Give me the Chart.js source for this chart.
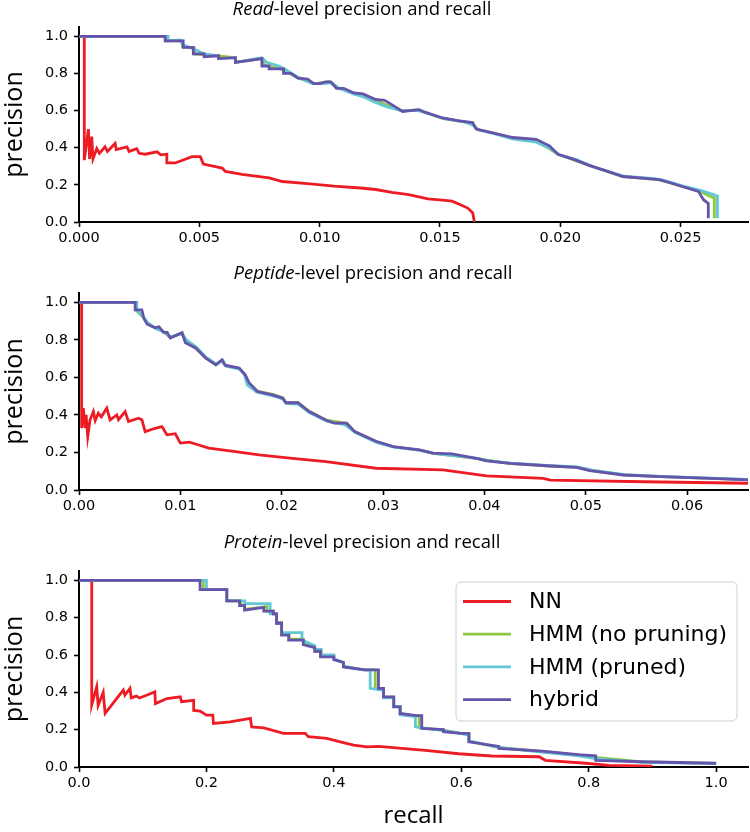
<!DOCTYPE html>
<html>
<head>
<meta charset="utf-8">
<script src="https://cdn.jsdelivr.net/npm/chart.js@4.4.1/dist/chart.umd.min.js"></script>
<style>
  body { margin: 0; background: #fff; }
  canvas { position: absolute; left: 0; }
</style>
</head>
<body>
<canvas id="readChart" width="750" height="250" style="top:0px"></canvas>
<canvas id="pepChart" width="750" height="256" style="top:262px"></canvas>
<canvas id="protChart" width="750" height="302" style="top:530px"></canvas>
<script>
const seriesNames = ["NN", "HMM (no pruning)", "HMM (pruned)", "hybrid"];
const seriesColors = ["#ed1c24", "#8dc63f", "#62c8d3", "#6554ab"];

// read level: [recall, precision]
const readNN = [[0.00022, 1.0], [0.00022, 0.333], [0.00039, 0.50], [0.00044, 0.34], [0.00053, 0.46], [0.00058, 0.34],
  [0.00074, 0.395], [0.00085, 0.37], [0.00108, 0.405], [0.00118, 0.38], [0.0015, 0.423], [0.00155, 0.39],
  [0.00199, 0.405], [0.00208, 0.38], [0.0024, 0.395], [0.0025, 0.37], [0.00275, 0.365], [0.00324, 0.378],
  [0.0034, 0.362], [0.00365, 0.365], [0.00365, 0.318], [0.0040, 0.318], [0.0047, 0.352], [0.00504, 0.352],
  [0.00517, 0.312], [0.00595, 0.29], [0.00608, 0.272], [0.00678, 0.256], [0.0079, 0.237], [0.00845, 0.218],
  [0.0095, 0.207], [0.0106, 0.193], [0.0117, 0.183], [0.01233, 0.175], [0.013, 0.16], [0.0137, 0.147],
  [0.0145, 0.125], [0.0151, 0.118], [0.0155, 0.112], [0.0159, 0.09], [0.01615, 0.075], [0.01636, 0.05], [0.01643, 0.0]];
const readNoPrune = [[0, 1.0], [0.0036, 1.0], [0.0036, 0.975], [0.0043, 0.975], [0.0043, 0.945], [0.0048, 0.935],
  [0.0048, 0.905], [0.0058, 0.895], [0.0065, 0.885], [0.0065, 0.86], [0.0076, 0.88], [0.0077, 0.845], [0.0085, 0.82],
  [0.0091, 0.775], [0.0098, 0.745], [0.0104, 0.755], [0.0108, 0.72], [0.0114, 0.695], [0.0123, 0.655], [0.0134, 0.598],
  [0.0141, 0.603], [0.0151, 0.558], [0.0163, 0.532], [0.0166, 0.498], [0.018, 0.452], [0.019, 0.44], [0.0199, 0.365],
  [0.0212, 0.305], [0.0226, 0.245], [0.0241, 0.228], [0.0251, 0.19], [0.0258, 0.165], [0.0262, 0.14], [0.0264, 0.13], [0.0264, 0.02]];
const readPruned = [[0, 1.0], [0.0037, 1.0], [0.0037, 0.975], [0.0042, 0.98], [0.0043, 0.955], [0.0049, 0.925],
  [0.0052, 0.905], [0.0058, 0.895], [0.0058, 0.88], [0.0065, 0.885], [0.0065, 0.86], [0.0076, 0.885], [0.0078, 0.86],
  [0.0083, 0.84], [0.0086, 0.82], [0.0091, 0.78], [0.0097, 0.745], [0.0102, 0.745], [0.0105, 0.75], [0.0108, 0.72],
  [0.0114, 0.69], [0.0118, 0.675], [0.0124, 0.64], [0.0128, 0.62], [0.0134, 0.60], [0.0141, 0.60], [0.0146, 0.58],
  [0.0152, 0.555], [0.0160, 0.54], [0.0164, 0.52], [0.0166, 0.495], [0.0173, 0.475], [0.018, 0.448], [0.019, 0.43],
  [0.0196, 0.395], [0.020, 0.36], [0.0207, 0.335], [0.0213, 0.30], [0.0220, 0.272], [0.0227, 0.245], [0.0236, 0.238],
  [0.0242, 0.228], [0.0247, 0.21], [0.0252, 0.19], [0.0259, 0.168], [0.0263, 0.15], [0.02653, 0.14], [0.02653, 0.02]];
const readHybrid = [[0, 1.0], [0.00358, 1.0], [0.00358, 0.975], [0.00433, 0.975], [0.00433, 0.94], [0.00475, 0.94],
  [0.00475, 0.905], [0.0052, 0.905], [0.0052, 0.89], [0.0058, 0.895], [0.0058, 0.88], [0.0065, 0.885], [0.0065, 0.86],
  [0.0076, 0.88], [0.0076, 0.84], [0.0079, 0.84], [0.0079, 0.825], [0.0085, 0.825], [0.0085, 0.80], [0.0088, 0.80],
  [0.0091, 0.775], [0.0095, 0.77], [0.00975, 0.745], [0.0100, 0.745], [0.01025, 0.755], [0.01046, 0.755], [0.0107, 0.72],
  [0.0110, 0.72], [0.01142, 0.695], [0.0118, 0.69], [0.01233, 0.66], [0.0127, 0.655], [0.01315, 0.62], [0.01345, 0.595],
  [0.01413, 0.605], [0.0144, 0.59], [0.01511, 0.56], [0.0158, 0.545], [0.01636, 0.535], [0.0165, 0.50], [0.0172, 0.48],
  [0.01803, 0.455], [0.019, 0.445], [0.01955, 0.41], [0.0199, 0.365], [0.0205, 0.34], [0.0212, 0.305], [0.0219, 0.275],
  [0.0226, 0.245], [0.0235, 0.235], [0.0241, 0.228], [0.0246, 0.21], [0.0251, 0.19], [0.02574, 0.165], [0.02595, 0.12],
  [0.02615, 0.10], [0.02615, 0.02]];

// peptide level
const pepNN = [[0.00026, 1.0], [0.00026, 0.33], [0.00043, 0.436], [0.0006, 0.33], [0.0007, 0.40], [0.00086, 0.285],
  [0.00109, 0.374], [0.00142, 0.418], [0.0016, 0.37], [0.00191, 0.409], [0.0022, 0.39], [0.00274, 0.436], [0.00307, 0.374],
  [0.00373, 0.40], [0.0039, 0.375], [0.00455, 0.418], [0.00488, 0.365], [0.00587, 0.383], [0.0062, 0.375], [0.00653, 0.311],
  [0.00752, 0.329], [0.00818, 0.338], [0.00868, 0.294], [0.0095, 0.30], [0.01, 0.25], [0.0109, 0.255], [0.01181, 0.24],
  [0.0128, 0.223], [0.01545, 0.205], [0.01775, 0.187], [0.02106, 0.169], [0.02436, 0.151], [0.0293, 0.116], [0.0359, 0.107],
  [0.0402, 0.075], [0.0458, 0.062], [0.0465, 0.053], [0.0557, 0.044], [0.066, 0.036]];
const pepNoPrune = [[0, 1.0], [0.0056, 1.0], [0.0056, 0.96], [0.0064, 0.917], [0.0068, 0.883], [0.0076, 0.864],
  [0.0084, 0.84], [0.009, 0.812], [0.0102, 0.836], [0.0105, 0.79], [0.0115, 0.758], [0.0125, 0.705], [0.0135, 0.668],
  [0.0141, 0.692], [0.0145, 0.663], [0.0158, 0.648], [0.0164, 0.61], [0.0167, 0.568], [0.0176, 0.527], [0.0191, 0.51],
  [0.0201, 0.492], [0.0204, 0.466], [0.0216, 0.466], [0.0227, 0.42], [0.0244, 0.372], [0.0264, 0.355], [0.0272, 0.31],
  [0.0293, 0.258], [0.031, 0.23], [0.0336, 0.212], [0.0349, 0.195], [0.0392, 0.168], [0.0425, 0.141], [0.0465, 0.128],
  [0.0491, 0.121], [0.0504, 0.104], [0.0537, 0.081], [0.0574, 0.071], [0.0623, 0.062], [0.066, 0.055]];
const pepPruned = [[0, 1.0], [0.0057, 1.0], [0.0057, 0.96], [0.0064, 0.92], [0.0068, 0.89], [0.0076, 0.86],
  [0.0083, 0.845], [0.009, 0.815], [0.0101, 0.835], [0.0106, 0.8], [0.0116, 0.76], [0.0125, 0.71], [0.0136, 0.67],
  [0.0142, 0.69], [0.0145, 0.66], [0.0158, 0.645], [0.0163, 0.62], [0.0166, 0.56], [0.0175, 0.522], [0.019, 0.503],
  [0.0201, 0.485], [0.0205, 0.46], [0.0216, 0.458], [0.0228, 0.41], [0.0245, 0.365], [0.0262, 0.348], [0.0273, 0.305],
  [0.0294, 0.252], [0.0311, 0.228], [0.0337, 0.211], [0.035, 0.195], [0.0393, 0.168], [0.0403, 0.156], [0.0426, 0.143],
  [0.0466, 0.13], [0.0492, 0.123], [0.0506, 0.106], [0.0538, 0.082], [0.0575, 0.072], [0.0624, 0.063], [0.066, 0.056]];
const pepHybrid = [[0, 1.0], [0.00554, 1.0], [0.00554, 0.96], [0.0062, 0.96], [0.0064, 0.915], [0.0067, 0.885],
  [0.0075, 0.865], [0.0079, 0.87], [0.00835, 0.84], [0.0087, 0.84], [0.009, 0.81], [0.01016, 0.838], [0.0105, 0.785],
  [0.0115, 0.757], [0.0125, 0.703], [0.0135, 0.667], [0.0141, 0.694], [0.0144, 0.665], [0.0158, 0.65], [0.0164, 0.614],
  [0.0168, 0.57], [0.0176, 0.525], [0.0191, 0.507], [0.0201, 0.49], [0.0204, 0.465], [0.0216, 0.465], [0.0227, 0.418],
  [0.0244, 0.372], [0.0252, 0.356], [0.0264, 0.356], [0.0272, 0.311], [0.0293, 0.26], [0.0310, 0.231], [0.0336, 0.214],
  [0.0349, 0.196], [0.0368, 0.193], [0.0392, 0.169], [0.0402, 0.155], [0.0425, 0.142], [0.0465, 0.128], [0.0491, 0.121],
  [0.0504, 0.103], [0.0537, 0.08], [0.0574, 0.071], [0.0623, 0.062], [0.066, 0.054]];

// protein level
const protNN = [[0.02, 1.0], [0.02, 0.332], [0.0278, 0.43], [0.03, 0.33], [0.038, 0.40], [0.041, 0.287], [0.0696, 0.412],
  [0.072, 0.385], [0.08, 0.421], [0.082, 0.37], [0.09, 0.38], [0.095, 0.37], [0.11, 0.39], [0.119, 0.403], [0.12, 0.34],
  [0.138, 0.367], [0.159, 0.376], [0.161, 0.35], [0.18, 0.357], [0.18, 0.303], [0.19, 0.3], [0.2, 0.278], [0.21, 0.278],
  [0.211, 0.233], [0.237, 0.242], [0.269, 0.26], [0.271, 0.215], [0.29, 0.21], [0.321, 0.18], [0.355, 0.18], [0.36, 0.162],
  [0.389, 0.153], [0.41, 0.135], [0.431, 0.117], [0.452, 0.108], [0.47, 0.11], [0.5436, 0.089], [0.596, 0.071],
  [0.648, 0.059], [0.722, 0.055], [0.732, 0.036], [0.795, 0.02], [0.832, 0.009], [0.9, 0.004]];
const protNoPrune = [[0, 1], [0.195, 1], [0.195, 0.95], [0.232, 0.95], [0.232, 0.89], [0.254, 0.89], [0.254, 0.865],
  [0.26, 0.865], [0.26, 0.845], [0.295, 0.86], [0.295, 0.835], [0.305, 0.835], [0.305, 0.82], [0.31, 0.82], [0.31, 0.775],
  [0.318, 0.775], [0.318, 0.71], [0.33, 0.71], [0.33, 0.685], [0.352, 0.685], [0.352, 0.66], [0.37, 0.645], [0.37, 0.62],
  [0.38, 0.62], [0.38, 0.595], [0.4, 0.595], [0.4, 0.578], [0.415, 0.56], [0.415, 0.538], [0.449, 0.52], [0.465, 0.52],
  [0.465, 0.421], [0.478, 0.415], [0.478, 0.374], [0.494, 0.374], [0.494, 0.324], [0.504, 0.324], [0.504, 0.285],
  [0.53, 0.274], [0.534, 0.274], [0.534, 0.21], [0.572, 0.197], [0.599, 0.18], [0.612, 0.176], [0.612, 0.138],
  [0.659, 0.104], [0.727, 0.083], [0.784, 0.063], [0.811, 0.052], [0.884, 0.027], [1.0, 0.019]];
const protPruned = [[0, 1], [0.2, 1], [0.2, 0.95], [0.232, 0.95], [0.232, 0.89], [0.26, 0.89], [0.26, 0.875],
  [0.3, 0.875], [0.3, 0.82], [0.31, 0.82], [0.31, 0.77], [0.318, 0.77], [0.318, 0.72], [0.35, 0.72], [0.35, 0.68],
  [0.37, 0.65], [0.37, 0.63], [0.38, 0.63], [0.38, 0.6], [0.4, 0.6], [0.4, 0.58], [0.415, 0.56], [0.415, 0.54],
  [0.445, 0.52], [0.457, 0.52], [0.457, 0.421], [0.478, 0.41], [0.478, 0.37], [0.494, 0.37], [0.494, 0.325],
  [0.504, 0.325], [0.504, 0.28], [0.528, 0.27], [0.528, 0.215], [0.572, 0.195], [0.599, 0.18], [0.612, 0.17],
  [0.612, 0.14], [0.659, 0.105], [0.727, 0.08], [0.784, 0.06], [0.811, 0.045], [0.884, 0.025], [1.0, 0.018]];
const protHybrid = [[0, 1], [0.19, 1], [0.19, 0.95], [0.232, 0.95], [0.232, 0.89], [0.252, 0.89], [0.252, 0.865],
  [0.26, 0.865], [0.26, 0.84], [0.29, 0.855], [0.29, 0.835], [0.305, 0.835], [0.305, 0.82], [0.31, 0.82], [0.31, 0.77],
  [0.318, 0.77], [0.318, 0.706], [0.329, 0.706], [0.329, 0.68], [0.352, 0.68], [0.352, 0.655], [0.37, 0.64], [0.37, 0.62],
  [0.379, 0.62], [0.379, 0.59], [0.4, 0.59], [0.4, 0.575], [0.415, 0.56], [0.415, 0.536], [0.449, 0.52], [0.47, 0.52],
  [0.47, 0.421], [0.478, 0.421], [0.478, 0.376], [0.494, 0.376], [0.494, 0.322], [0.504, 0.322], [0.504, 0.287],
  [0.53, 0.275], [0.538, 0.275], [0.538, 0.207], [0.572, 0.2], [0.572, 0.189], [0.599, 0.18], [0.612, 0.18],
  [0.612, 0.135], [0.659, 0.11], [0.659, 0.1], [0.727, 0.085], [0.784, 0.066], [0.811, 0.06], [0.811, 0.035],
  [0.884, 0.028], [1.0, 0.02]];

const yTicks = [0, 0.2, 0.4, 0.6, 0.8, 1.0];
const readTicks = [0, 0.005, 0.01, 0.015, 0.02, 0.025];
const pepTicks = [0, 0.01, 0.02, 0.03, 0.04, 0.05, 0.06];
const protTicks = [0, 0.2, 0.4, 0.6, 0.8, 1.0];

const tickFont = { family: "DejaVu Sans", size: 14.5 };
const labelFont = { family: "Open Sans", size: 25 };

const panelTitle = {
    id: "panelTitle",
    afterDraw(chart, args, opts) {
        const ctx = chart.ctx;
        ctx.save();
        ctx.fillStyle = "#000";
        ctx.textBaseline = "middle";
        ctx.textAlign = "left";
        ctx.font = "italic 18.5px 'Open Sans'";
        const w1 = ctx.measureText(opts.italic).width;
        ctx.font = "18.5px 'Open Sans'";
        const w2 = ctx.measureText(opts.rest).width;
        const x = opts.x - (w1 + w2) / 2;
        ctx.font = "italic 18.5px 'Open Sans'";
        ctx.fillText(opts.italic, x, opts.y);
        ctx.font = "18.5px 'Open Sans'";
        ctx.fillText(opts.rest, x + w1, opts.y);
        ctx.restore();
    }
};

const boxLegend = {
    id: "boxLegend",
    afterDraw(chart, args, opts) {
        if (!opts.show) return;
        const ctx = chart.ctx;
        const area = chart.chartArea;
        const sets = chart.data.datasets;
        ctx.save();
        ctx.font = "22px 'DejaVu Sans'";
        let textW = 0;
        sets.forEach((ds) => { textW = Math.max(textW, ctx.measureText(ds.label).width); });
        const w = 7 + 48 + 18 + textW + 10;
        const h = 139;
        const left = area.right - 11 - w;
        const top = area.top + 11;
        ctx.beginPath();
        ctx.roundRect(left, top, w, h, 5);
        ctx.fillStyle = "rgba(255,255,255,0.8)";
        ctx.fill();
        ctx.strokeStyle = "#cfcfcf";
        ctx.lineWidth = 1;
        ctx.stroke();
        sets.forEach((ds, i) => {
            const y = top + 19.5 + i * 32.7;
            ctx.beginPath();
            ctx.moveTo(left + 7, y);
            ctx.lineTo(left + 55, y);
            ctx.strokeStyle = ds.borderColor;
            ctx.lineWidth = 2.8;
            ctx.stroke();
            ctx.fillStyle = "#000";
            ctx.textBaseline = "middle";
            ctx.fillText(ds.label, left + 73, y + 1);
        });
        ctx.restore();
    }
};

function makeDatasets(lists) {
    return lists.map((pts, i) => ({
        label: seriesNames[i],
        data: pts,
        borderColor: seriesColors[i],
        borderWidth: 2.8,
        pointRadius: 0,
        tension: 0,
        fill: false,
        order: lists.length - 1 - i,
    }));
}

function makeChart(id, lists, xMax, xTicks, decimals, panel) {
    return new Chart(document.getElementById(id), {
        type: "line",
        data: { datasets: makeDatasets(lists) },
        options: {
            responsive: false,
            animation: false,
            events: [],
            layout: { padding: { top: panel.padTop, right: 2, left: 0, bottom: 0 } },
            plugins: {
                legend: { display: false },
                tooltip: { enabled: false },
                panelTitle: { italic: panel.italic, rest: "-level precision and recall", x: panel.titleX, y: panel.titleY },
                boxLegend: { show: panel.legend },
            },
            scales: {
                x: {
                    type: "linear",
                    min: 0,
                    max: xMax,
                    afterBuildTicks: (s) => { s.ticks = xTicks.map((v) => ({ value: v })); },
                    afterFit: (s) => { s.height = panel.xHeight; },
                    ticks: { font: tickFont, color: "#000", padding: 3, callback: (v) => Number(v).toFixed(decimals) },
                    border: { color: "#000", width: 2 },
                    grid: { drawOnChartArea: false, tickLength: 5, tickWidth: 1.6, tickColor: "#000" },
                    title: { display: panel.xTitle, text: "recall", font: { family: "Open Sans", size: 24 }, color: "#000", padding: { top: 0, bottom: 1 } },
                },
                y: {
                    min: 0,
                    max: 1.05,
                    afterBuildTicks: (s) => { s.ticks = yTicks.map((v) => ({ value: v })); },
                    afterFit: (s) => { s.width = 79; },
                    ticks: { font: tickFont, color: "#000", padding: 6, callback: (v) => Number(v).toFixed(1) },
                    border: { color: "#000", width: 2 },
                    grid: { drawOnChartArea: false, tickLength: 5, tickWidth: 1.6, tickColor: "#000" },
                    title: { display: true, text: "precision", font: labelFont, color: "#000", padding: { top: 0, bottom: 0 } },
                },
            },
        },
        plugins: [panelTitle, boxLegend],
    });
}

makeChart("readChart", [readNN, readNoPrune, readPruned, readHybrid], 0.0278, readTicks, 3,
    { padTop: 27, italic: "Read", titleX: 362, titleY: 9.5, xHeight: 28, xTitle: false, legend: false });
makeChart("pepChart", [pepNN, pepNoPrune, pepPruned, pepHybrid], 0.066, pepTicks, 2,
    { padTop: 31, italic: "Peptide", titleX: 373, titleY: 12, xHeight: 28, xTitle: false, legend: false });
makeChart("protChart", [protNN, protNoPrune, protPruned, protHybrid], 1.05, protTicks, 1,
    { padTop: 41, italic: "Protein", titleX: 362, titleY: 13, xHeight: 65, xTitle: true, legend: true });
</script>
</body>
</html>
